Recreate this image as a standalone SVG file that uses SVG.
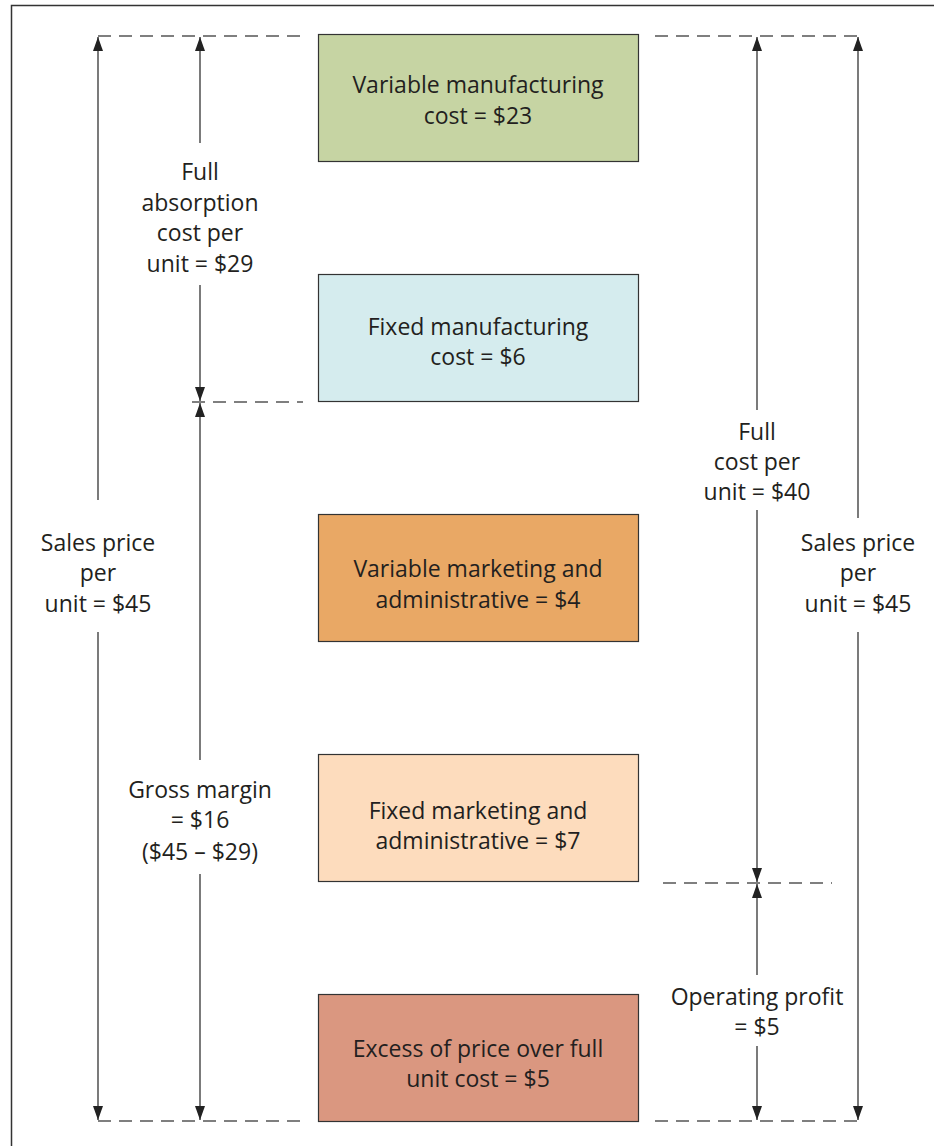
<svg xmlns="http://www.w3.org/2000/svg" width="934" height="1146" viewBox="0 0 934 1146">
  <defs>
    <style>
      .frame { fill: none; stroke: #333; stroke-width: 1.5; }
      .box { stroke: #333; stroke-width: 1.2; }
      .dash { stroke: #555; stroke-width: 1.5; stroke-dasharray: 13 8; fill: none; }
      .dim { stroke: #222; stroke-width: 1.2; fill: none; }
      text { font-family: "Open Sans", "Liberation Sans", Arial, sans-serif; font-size: 23px; fill: #231f20; text-anchor: middle; }
    </style>
    <marker id="ah" viewBox="0 0 14 10" refX="14" refY="5" markerWidth="14" markerHeight="10" markerUnits="userSpaceOnUse" orient="auto">
      <path d="M0,0 L14,5 L0,10 Z" fill="#222"/>
    </marker>
  </defs>

  <rect class="frame" x="11.5" y="5.5" width="940" height="1160"/>

  <!-- cost blocks -->
  <g id="var-mfg">
    <rect class="box" x="318.5" y="34.5" width="320" height="127" fill="#c6d4a3"/>
    <text x="478" y="93">Variable manufacturing</text>
    <text x="478" y="124">cost = $23</text>
  </g>
  <g id="fixed-mfg">
    <rect class="box" x="318.5" y="274.5" width="320" height="127" fill="#d5ecee"/>
    <text x="478" y="335">Fixed manufacturing</text>
    <text x="478" y="365">cost = $6</text>
  </g>
  <g id="var-mkt">
    <rect class="box" x="318.5" y="514.5" width="320" height="127" fill="#e9a865"/>
    <text x="478" y="577">Variable marketing and</text>
    <text x="478" y="608">administrative = $4</text>
  </g>
  <g id="fixed-mkt">
    <rect class="box" x="318.5" y="754.5" width="320" height="127" fill="#fddcbd"/>
    <text x="478" y="819">Fixed marketing and</text>
    <text x="478" y="849">administrative = $7</text>
  </g>
  <g id="excess">
    <rect class="box" x="318.5" y="994.5" width="320" height="127" fill="#da9780"/>
    <text x="478" y="1057">Excess of price over full</text>
    <text x="478" y="1087">unit cost = $5</text>
  </g>

  <!-- guide lines and dimension arrows -->
  <g id="connectors">
    <line class="dash" x1="98" y1="36" x2="303" y2="36"/>
    <line class="dash" x1="655" y1="36" x2="858" y2="36"/>
    <line class="dash" x1="192" y1="402" x2="303" y2="402"/>
    <line class="dash" x1="663" y1="883" x2="832" y2="883"/>
    <line class="dash" x1="98" y1="1121" x2="303" y2="1121"/>
    <line class="dash" x1="655" y1="1121" x2="858" y2="1121"/>

    <!-- left: sales price -->
    <line class="dim" x1="98" y1="500" x2="98" y2="37" marker-end="url(#ah)"/>
    <line class="dim" x1="98" y1="632" x2="98" y2="1120" marker-end="url(#ah)"/>
    <!-- full absorption cost -->
    <line class="dim" x1="200" y1="143" x2="200" y2="37" marker-end="url(#ah)"/>
    <line class="dim" x1="200" y1="285" x2="200" y2="401" marker-end="url(#ah)"/>
    <!-- gross margin -->
    <line class="dim" x1="200" y1="760" x2="200" y2="403" marker-end="url(#ah)"/>
    <line class="dim" x1="200" y1="874" x2="200" y2="1120" marker-end="url(#ah)"/>
    <!-- full cost -->
    <line class="dim" x1="757" y1="410" x2="757" y2="37" marker-end="url(#ah)"/>
    <line class="dim" x1="757" y1="510" x2="757" y2="882" marker-end="url(#ah)"/>
    <!-- operating profit -->
    <line class="dim" x1="757" y1="975" x2="757" y2="884" marker-end="url(#ah)"/>
    <line class="dim" x1="757" y1="1046" x2="757" y2="1120" marker-end="url(#ah)"/>
    <!-- right: sales price -->
    <line class="dim" x1="858" y1="518" x2="858" y2="37" marker-end="url(#ah)"/>
    <line class="dim" x1="858" y1="632" x2="858" y2="1120" marker-end="url(#ah)"/>
  </g>

  <g id="labels">
    <text x="98" y="551">Sales price</text>
    <text x="98" y="581">per</text>
    <text x="98" y="612">unit = $45</text>

    <text x="200" y="180">Full</text>
    <text x="200" y="211">absorption</text>
    <text x="200" y="241">cost per</text>
    <text x="200" y="272">unit = $29</text>

    <text x="200" y="798">Gross margin</text>
    <text x="200" y="828">= $16</text>
    <text x="200" y="860">($45 – $29)</text>

    <text x="757" y="440">Full</text>
    <text x="757" y="470">cost per</text>
    <text x="757" y="500">unit = $40</text>

    <text x="757" y="1005">Operating profit</text>
    <text x="757" y="1035">= $5</text>

    <text x="858" y="551">Sales price</text>
    <text x="858" y="581">per</text>
    <text x="858" y="612">unit = $45</text>
  </g>
</svg>
